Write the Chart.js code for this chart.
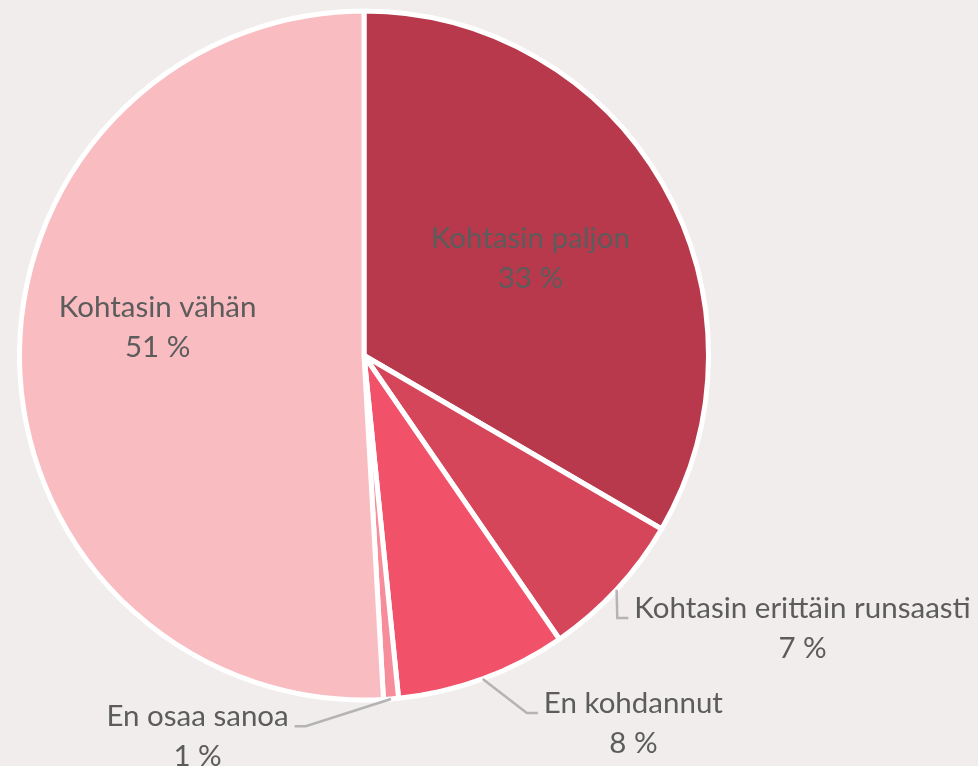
<!DOCTYPE html>
<html>
<head>
<meta charset="utf-8">
<script src="https://cdn.jsdelivr.net/npm/chart.js@4"></script>
<style>
  html, body { margin: 0; padding: 0; background: #f0edec; }
  #wrap { width: 978px; height: 766px; }
</style>
</head>
<body>
<div id="wrap"><canvas id="pieChart" width="978" height="766"></canvas></div>
<script>
const categories = ['Kohtasin paljon', 'Kohtasin erittäin runsaasti', 'En kohdannut', 'En osaa sanoa', 'Kohtasin vähän'];
const values = [33.4, 7.0, 8.0, 0.7, 50.9];
const percentLabels = ['33 %', '7 %', '8 %', '1 %', '51 %'];
const sliceColors = ['#b8394b', '#d6465b', '#f2516a', '#f78c9a', '#f9bcc1'];

// label placement, as fractions of the radius from the pie centre
// side: 'in' = inside the slice, 'left'/'right' = outside with a leader line
const labelSpots = [
  { dx: 0.483, dy: -0.282, side: 'in' },
  { dx: 1.273, dy: 0.791, side: 'right' },
  { dx: 0.782, dy: 1.067, side: 'right' },
  { dx: -0.483, dy: 1.105, side: 'left' },
  { dx: -0.599, dy: -0.081, side: 'in' }
];

const pieLabels = {
  id: 'pieLabels',
  afterDraw(chart) {
    const ctx = chart.ctx;
    const arcs = chart.getDatasetMeta(0).data;
    ctx.save();
    ctx.font = '29.5px Lato, "Open Sans", sans-serif';
    ctx.fillStyle = '#5c5c5c';
    ctx.textBaseline = 'middle';
    ctx.textAlign = 'center';
    const lineGap = 40;
    arcs.forEach((arc, i) => {
      const p = arc.getProps(['x', 'y', 'startAngle', 'endAngle', 'outerRadius'], true);
      const spot = labelSpots[i];
      const cx = p.x + spot.dx * p.outerRadius;
      const cy = p.y + spot.dy * p.outerRadius;
      const y1 = cy - lineGap / 2;
      const y2 = cy + lineGap / 2;
      ctx.fillText(categories[i], cx, y1);
      ctx.fillText(percentLabels[i], cx, y2);

      if (spot.side !== 'in') {
        const w = ctx.measureText(categories[i]).width;
        const mid = (p.startAngle + p.endAngle) / 2;
        const ex = p.x + Math.cos(mid) * p.outerRadius;
        const ey = p.y + Math.sin(mid) * p.outerRadius;
        const edge = spot.side === 'right' ? cx - w / 2 : cx + w / 2;
        const dir = spot.side === 'right' ? -1 : 1;
        const ly = y1 + 10;
        ctx.strokeStyle = '#b4b4b4';
        ctx.lineWidth = 2.5;
        ctx.beginPath();
        ctx.moveTo(ex, ey);
        ctx.lineTo(edge + dir * 17, ly);
        ctx.lineTo(edge + dir * 6, ly);
        ctx.stroke();
      }
    });
    ctx.restore();
  }
};

window.addEventListener('load', () => {
  const ctx = document.getElementById('pieChart').getContext('2d');
  new Chart(ctx, {
    type: 'pie',
    data: {
      labels: categories,
      datasets: [{
        data: values,
        backgroundColor: sliceColors,
        borderColor: '#ffffff',
        borderWidth: 5
      }]
    },
    options: {
      responsive: false,
      animation: false,
      layout: { padding: { left: 17, right: 267, top: 8, bottom: 63 } },
      plugins: {
        legend: { display: false },
        tooltip: { enabled: false }
      }
    },
    plugins: [pieLabels]
  });
});
</script>
</body>
</html>
